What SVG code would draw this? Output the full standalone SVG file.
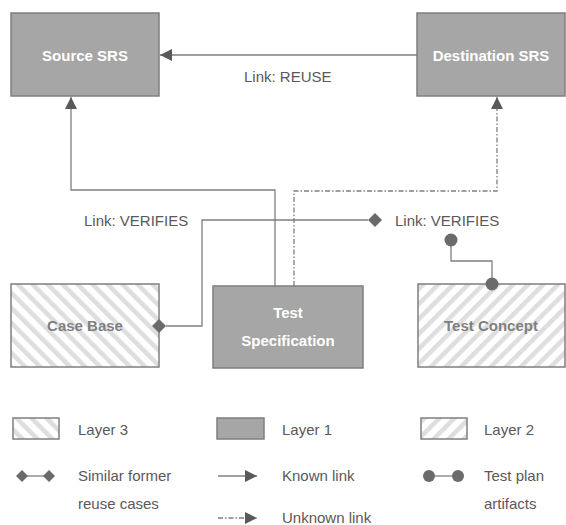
<svg xmlns="http://www.w3.org/2000/svg" width="566" height="525" viewBox="0 0 566 525">
<style>
.solid{fill:#a6a6a6;stroke:#7f7f7f;stroke-width:1.5}
.h3{fill:url(#hatch3);stroke:#7f7f7f;stroke-width:1.5}
.h2{fill:url(#hatch2);stroke:#7f7f7f;stroke-width:1.5}
.wt{font-family:"Liberation Sans",Arial,sans-serif;font-size:15px;font-weight:bold;fill:#ffffff;text-anchor:middle}
.gt{font-family:"Liberation Sans",Arial,sans-serif;font-size:15px;font-weight:bold;fill:#7f7f7f;text-anchor:middle}
.lbl{font-family:"Liberation Sans",Arial,sans-serif;font-size:15px;fill:#595959}
.ln{fill:none;stroke:#7f7f7f;stroke-width:1.3}
.dd{fill:none;stroke:#7f7f7f;stroke-width:1.3;stroke-dasharray:5 2 1.5 2}
.dia{fill:#6b6b6b}
.dot{fill:#6b6b6b}
</style>
<defs>
<pattern id="hatch3" patternUnits="userSpaceOnUse" width="10.6" height="10.6" patternTransform="rotate(-45)">
<rect width="10.6" height="10.6" fill="#ffffff"/>
<rect width="4.5" height="10.6" fill="#dedede"/>
</pattern>
<pattern id="hatch2" patternUnits="userSpaceOnUse" width="10.6" height="10.6" patternTransform="rotate(45)">
<rect width="10.6" height="10.6" fill="#ffffff"/>
<rect width="4.5" height="10.6" fill="#dedede"/>
</pattern>
<marker id="arr" viewBox="0 0 12 12" refX="12" refY="6" markerWidth="12" markerHeight="12" markerUnits="userSpaceOnUse" orient="auto">
<path d="M0,0 L12,6 L0,12 Z" fill="#595959"/>
</marker>
</defs>

<g id="source-srs">
<rect class="solid" x="11" y="13" width="148" height="83"/>
<text class="wt" x="85" y="61">Source SRS</text>
</g>
<g id="destination-srs">
<rect class="solid" x="417" y="13" width="148" height="83"/>
<text class="wt" x="491" y="61">Destination SRS</text>
</g>
<g id="case-base">
<rect class="h3" x="11" y="284" width="148" height="83"/>
<text class="gt" x="85" y="331">Case Base</text>
</g>
<g id="test-specification">
<rect class="solid" x="213" y="286" width="150" height="82"/>
<text class="wt" x="288" y="318">Test</text>
<text class="wt" x="288" y="346">Specification</text>
</g>
<g id="test-concept">
<rect class="h2" x="418" y="284" width="147" height="83"/>
<text class="gt" x="491" y="331">Test Concept</text>
</g>

<g id="connectors">
<line class="ln" x1="417" y1="55" x2="160" y2="55" marker-end="url(#arr)"/>
<polyline class="ln" points="275,286 275,190 71,190 71,97" marker-end="url(#arr)"/>
<polyline class="dd" points="294,286 294,191 497,191 497,97" marker-end="url(#arr)"/>
<polyline class="ln" points="166,326 202,326 202,220 368,220"/>
<path class="dia" d="M152,326 L159,319 L166,326 L159,333 Z"/>
<path class="dia" d="M368,220 L375,213 L382,220 L375,227 Z"/>
<polyline class="ln" points="451,240 451,261 492,261 492,284"/>
<circle class="dot" cx="451" cy="240" r="6.5"/>
<circle class="dot" cx="492" cy="284" r="6.5"/>
</g>

<g id="labels">
<text class="lbl" x="244" y="82">Link: REUSE</text>
<text class="lbl" x="84" y="226">Link: VERIFIES</text>
<text class="lbl" x="395" y="226">Link: VERIFIES</text>
</g>

<g id="legend">
<rect class="h3" x="13" y="418" width="46" height="21"/>
<text class="lbl" x="78" y="435">Layer 3</text>
<rect class="solid" x="217" y="418" width="47" height="21"/>
<text class="lbl" x="282" y="435">Layer 1</text>
<rect class="h2" x="421" y="418" width="46" height="21"/>
<text class="lbl" x="484" y="435">Layer 2</text>

<line class="ln" x1="22" y1="476" x2="49" y2="476"/>
<path class="dia" d="M16,476 L22,470 L28,476 L22,482 Z"/>
<path class="dia" d="M43,476 L49,470 L55,476 L49,482 Z"/>
<text class="lbl" x="78" y="481">Similar former</text>
<text class="lbl" x="78" y="509">reuse cases</text>

<line class="ln" x1="218" y1="476" x2="257" y2="476" marker-end="url(#arr)"/>
<text class="lbl" x="282" y="481">Known link</text>
<line class="dd" x1="218" y1="518" x2="257" y2="518" marker-end="url(#arr)"/>
<text class="lbl" x="282" y="523">Unknown link</text>

<line class="ln" x1="429" y1="476" x2="458" y2="476"/>
<circle class="dot" cx="429" cy="476" r="6"/>
<circle class="dot" cx="458" cy="476" r="6"/>
<text class="lbl" x="484" y="481">Test plan</text>
<text class="lbl" x="484" y="509">artifacts</text>
</g>
</svg>
